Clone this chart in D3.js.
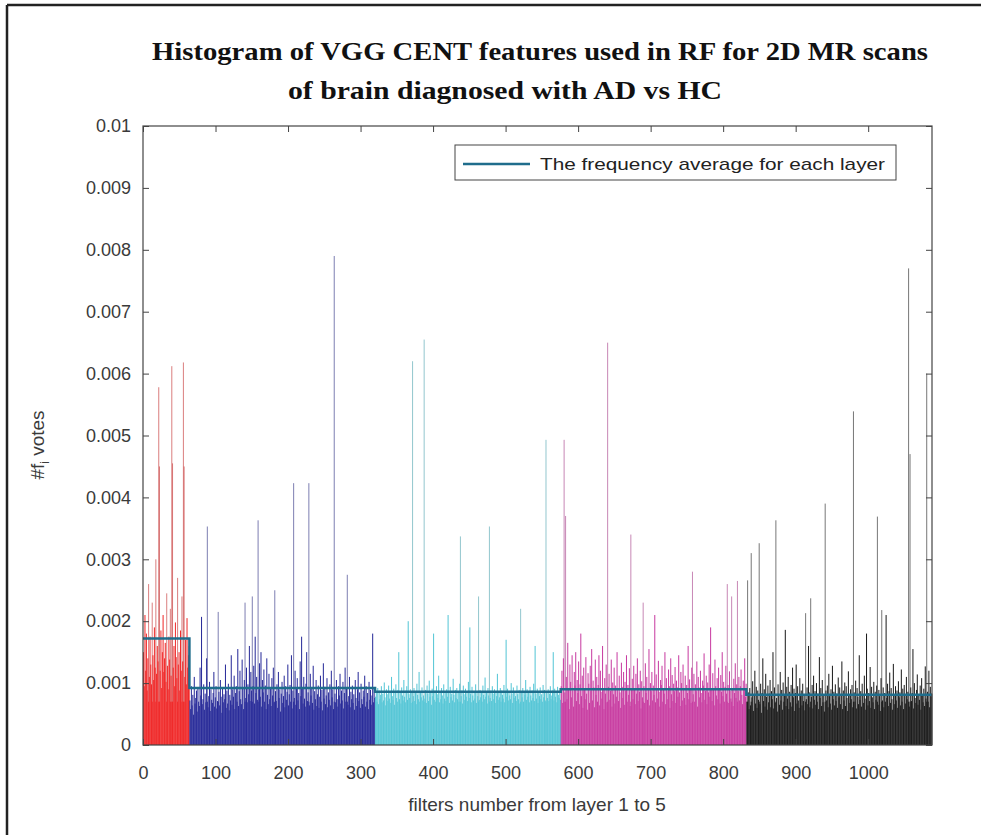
<!DOCTYPE html>
<html>
<head>
<meta charset="utf-8">
<script src="https://cdn.jsdelivr.net/npm/d3@7"></script>
<style>
  body { margin: 0; background: #fff; }
  svg { display: block; }
</style>
</head>
<body>
<svg id="chart" width="981" height="835"></svg>
<script>
// votes per filter, in units of 1e-5
var layer1 = [150,95,210,120,180,88,140,260,110,175,
  130,98,230,145,105,190,125,300,115,160,
  135,578,450,120,185,92,150,210,118,140,
  165,102,245,128,90,175,138,220,112,612,
  455,125,160,95,198,142,108,270,130,150,
  88,185,120,240,135,618,450,110,170,98,
  205,125,145,160];
var layer2 = [72,58,95,64,81,49,110,67,76,88,54,92,70,63,125,80,
  207,66,74,98,57,83,69,140,353,61,79,102,55,90,73,68,
  84,118,62,77,95,59,71,215,86,64,105,78,52,93,69,82,
  74,130,60,88,67,99,56,81,72,145,65,90,78,112,58,84,
  95,70,155,63,87,120,74,66,138,92,58,105,230,76,125,69,
  98,82,160,71,118,88,240,95,128,67,175,84,110,73,363,90,
  132,78,150,62,105,85,122,70,96,58,140,81,66,115,74,92,
  63,108,80,125,69,250,87,71,98,60,118,76,90,54,83,102,
  68,79,112,61,95,73,86,130,64,82,97,70,145,59,88,423,
  76,120,65,91,108,72,84,58,135,79,175,93,67,110,75,62,
  99,150,71,85,423,64,115,80,92,68,128,57,87,74,105,63,
  82,96,60,78,112,70,89,56,132,75,94,66,80,108,61,85,
  73,98,64,120,77,90,58,790,83,69,105,74,62,95,80,115,
  67,88,72,102,59,84,125,70,93,275,65,79,110,61,86,74,
  96,68,82,57,105,76,63,90,118,71,85,60,99,74,66,88,
  78,112,62,95,70,84,58,102,73,89,65,80,180,69,92,76];
var layer3 = [78,85,70,92,66,88,74,81,95,69,83,72,101,77,64,90,
  82,71,96,75,87,68,110,79,73,91,65,84,98,76,70,89,
  150,74,86,67,93,80,72,105,78,69,88,95,73,200,82,76,
  90,68,84,620,79,92,71,87,66,99,81,74,118,70,85,77,
  93,72,80,655,75,89,68,96,83,71,104,78,86,65,91,79,
  180,73,88,70,95,82,76,112,69,87,74,92,80,67,98,75,
  84,71,90,78,210,86,68,94,77,83,72,107,81,69,89,76,
  92,74,85,70,99,337,79,88,67,96,82,73,91,78,84,71,
  102,76,190,83,69,94,80,72,87,75,98,68,86,79,240,73,
  89,77,84,70,96,81,74,109,78,85,67,92,80,353,76,88,
  71,95,83,74,90,68,86,79,115,73,84,77,92,70,88,81,
  75,97,69,85,170,78,91,72,86,80,74,100,83,68,93,76,
  87,79,71,96,82,74,89,67,220,84,77,92,70,86,81,105,
  73,90,78,85,69,94,80,72,88,76,99,71,160,83,75,91,
  68,86,79,93,74,82,70,97,77,89,72,493,84,76,90,71,
  83,95,74,80,88,150,72,91,78,85,69,94,81,76,87,73];
var layer4 = [95,120,68,140,493,85,370,110,74,165,92,58,130,102,77,145,
  88,62,118,96,150,71,105,84,135,66,98,180,79,112,60,125,
  90,74,142,83,57,116,99,68,128,87,155,72,104,93,61,138,
  81,110,70,97,145,64,120,86,75,160,92,58,108,83,130,69,
  650,94,115,73,88,138,62,101,82,125,67,96,78,150,90,71,
  112,85,60,133,94,76,118,65,102,88,145,70,97,81,124,63,
  340,89,107,74,128,92,66,115,83,140,71,98,86,120,59,103,
  77,230,95,68,132,84,110,73,90,155,64,100,87,118,72,96,
  81,210,69,114,92,75,136,86,62,105,97,128,70,91,83,150,
  66,108,88,74,122,95,60,140,82,113,71,99,87,126,68,104,
  93,78,145,85,63,118,100,72,130,89,76,112,65,97,84,160,
  74,106,91,68,125,280,82,115,70,98,87,135,62,110,93,77,
  120,84,69,104,96,148,73,88,112,66,101,85,130,78,190,92,
  71,116,89,64,138,95,80,108,74,125,90,67,113,86,150,79,
  102,70,94,128,83,260,97,68,119,88,75,240,91,63,107,84,
  132,76,98,265,87,110,72,95,122,81,66,104,90,140,78,99];
var layer5 = [70,266,85,58,92,64,310,77,103,55,81,120,67,94,60,88,
  73,326,66,99,52,84,140,71,90,62,115,78,57,96,69,83,
  105,61,87,74,150,59,93,68,363,76,54,98,82,65,118,72,
  89,57,101,70,80,186,63,94,75,110,58,86,69,97,62,125,
  77,91,55,84,130,67,95,72,60,108,79,88,64,99,71,82,
  56,213,74,93,66,160,85,61,237,78,97,59,112,73,87,65,
  100,70,83,58,142,76,92,63,105,69,81,54,390,88,72,96,
  61,115,79,67,90,57,128,74,86,64,98,71,83,60,109,77,
  93,66,80,135,58,88,72,101,63,95,76,55,119,82,68,90,
  74,97,61,539,85,70,104,59,92,78,66,145,73,87,62,99,
  80,68,112,75,57,180,91,64,84,71,126,60,94,77,69,102,
  58,86,73,96,369,65,89,79,55,108,218,72,93,61,84,70,
  210,76,99,63,87,117,68,92,74,57,131,81,66,95,72,88,
  60,103,77,85,64,122,70,91,58,97,79,67,110,74,86,770,
  62,470,93,71,84,155,59,100,76,68,89,114,65,82,73,96,
  57,108,80,69,91,63,127,75,600,86,70,120,61,94,78,83];

var layerColors = ["#f02c2c", "#2a2d9a", "#56c6d6", "#c83ea2", "#1e1e1e"];
var layerAvg = [0.00172, 0.00092, 0.00086, 0.0009, 0.00081];
var xTicks = [0,100,200,300,400,500,600,700,800,900,1000];
var yTicks = [0,0.001,0.002,0.003,0.004,0.005,0.006,0.007,0.008,0.009,0.01];

var main = function() {
    var layers = [layer1, layer2, layer3, layer4, layer5];
    var bars = [];
    var starts = [];
    var n = 0;
    layers.forEach(function(arr, li) {
        starts.push(n);
        arr.forEach(function(v) {
            bars.push({ i: n, v: v / 100000, layer: li });
            n++;
        });
    });

    var svg = d3.select("#chart");
    var pLeft = 143, pRight = 932, pTop = 126, pBottom = 745;

    var x = d3.scaleLinear().domain([0, 1088]).range([pLeft, pRight]);
    var y = d3.scaleLinear().domain([0, 0.01]).range([pBottom, pTop]);

    // outer frame (only top and left visible)
    svg.append("line").attr("x1", 7).attr("x2", 981).attr("y1", 5).attr("y2", 5)
        .attr("stroke", "#222").attr("stroke-width", 2.5);
    svg.append("line").attr("x1", 7).attr("x2", 7).attr("y1", 5).attr("y2", 835)
        .attr("stroke", "#222").attr("stroke-width", 2.5);

    // bars: lone tall spikes look washed out in the original, the dense part is solid
    var spikeLevel = 0.0021;
    var bw = x(1) - x(0) + 0.3;
    var solidTop = d => d.v > spikeLevel ? 0.0007 : d.v;
    var barG = svg.append("g");
    barG.selectAll("rect.full").data(bars.filter(d => d.v > spikeLevel)).enter().append("rect")
        .attr("class", "full")
        .attr("x", d => x(d.i))
        .attr("width", bw)
        .attr("y", d => y(d.v))
        .attr("height", d => pBottom - y(d.v))
        .attr("fill", d => d3.interpolateRgb(layerColors[d.layer], "#888")(0.35))
        .attr("fill-opacity", 0.7);
    barG.selectAll("rect.base").data(bars).enter().append("rect")
        .attr("class", "base")
        .attr("x", d => x(d.i))
        .attr("width", bw)
        .attr("y", d => y(solidTop(d)))
        .attr("height", d => pBottom - y(solidTop(d)))
        .attr("fill", d => layerColors[d.layer]);

    // average per layer (stairs)
    var avgPts = starts.map((s, k) => [s, layerAvg[k]]);
    avgPts.push([1088, layerAvg[layerAvg.length - 1]]);
    svg.append("path")
        .attr("d", d3.line().x(d => x(d[0])).y(d => y(d[1])).curve(d3.curveStepAfter)(avgPts))
        .attr("fill", "none").attr("stroke", "#1f6d8c").attr("stroke-width", 2.5);

    // axes box
    var axisCol = "#444";
    svg.append("rect").attr("x", pLeft).attr("y", pTop)
        .attr("width", pRight - pLeft).attr("height", pBottom - pTop)
        .attr("fill", "none").attr("stroke", axisCol).attr("stroke-width", 1.2);

    var font = "'Liberation Sans', Arial, sans-serif";

    svg.append("g").attr("transform", `translate(0,${pBottom})`)
        .call(d3.axisBottom(x).tickValues(xTicks).tickSize(-6).tickPadding(21).tickFormat(d3.format("d")));
    svg.append("g").attr("transform", `translate(${pLeft},0)`)
        .call(d3.axisLeft(y).tickValues(yTicks).tickSize(-6).tickPadding(12).tickFormat(d => d === 0 ? "0" : String(+d.toFixed(3))));
    svg.append("g").attr("transform", `translate(0,${pTop})`)
        .call(d3.axisTop(x).tickValues(xTicks).tickSize(-6).tickFormat(""));
    svg.append("g").attr("transform", `translate(${pRight},0)`)
        .call(d3.axisRight(y).tickValues(yTicks).tickSize(-6).tickFormat(""));

    svg.selectAll(".domain").remove();
    svg.selectAll(".tick line").attr("stroke", axisCol);
    svg.selectAll(".tick text").attr("fill", "#3a3a3a").style("font-family", font).style("font-size", "18px");

    // axis titles
    svg.append("text").attr("x", 537).attr("y", 811).attr("text-anchor", "middle")
        .style("font-family", font).style("font-size", "19px").attr("fill", "#3a3a3a")
        .text("filters number from layer 1 to 5");

    var yl = svg.append("text").attr("transform", "translate(44,445) rotate(-90)")
        .attr("text-anchor", "middle").style("font-family", font).style("font-size", "19px").attr("fill", "#3a3a3a");
    yl.append("tspan").text("#f");
    yl.append("tspan").attr("dy", 5).style("font-size", "12px").text("i");
    yl.append("tspan").attr("dy", -5).text(" votes");

    // title
    var tfont = "'Liberation Serif', 'Times New Roman', serif";
    svg.append("text").attr("x", 152).attr("y", 60)
        .attr("textLength", 776).attr("lengthAdjust", "spacingAndGlyphs")
        .style("font-family", tfont).style("font-weight", "bold").style("font-size", "26px").attr("fill", "#111")
        .text("Histogram of VGG CENT features used in RF for 2D MR scans");
    svg.append("text").attr("x", 288).attr("y", 99)
        .attr("textLength", 434).attr("lengthAdjust", "spacingAndGlyphs")
        .style("font-family", tfont).style("font-weight", "bold").style("font-size", "26px").attr("fill", "#111")
        .text("of brain diagnosed with AD vs HC");

    // legend
    var lg = svg.append("g");
    lg.append("rect").attr("x", 455).attr("y", 145).attr("width", 441).attr("height", 35)
        .attr("fill", "#fff").attr("stroke", "#444").attr("stroke-width", 1);
    lg.append("line").attr("x1", 463).attr("x2", 530).attr("y1", 164).attr("y2", 164)
        .attr("stroke", "#1f6d8c").attr("stroke-width", 2.5);
    lg.append("text").attr("x", 540).attr("y", 170)
        .attr("textLength", 345).attr("lengthAdjust", "spacingAndGlyphs")
        .style("font-family", font).style("font-size", "17px").attr("fill", "#222")
        .text("The frequency average for each layer");
};
main();
</script>
</body>
</html>
